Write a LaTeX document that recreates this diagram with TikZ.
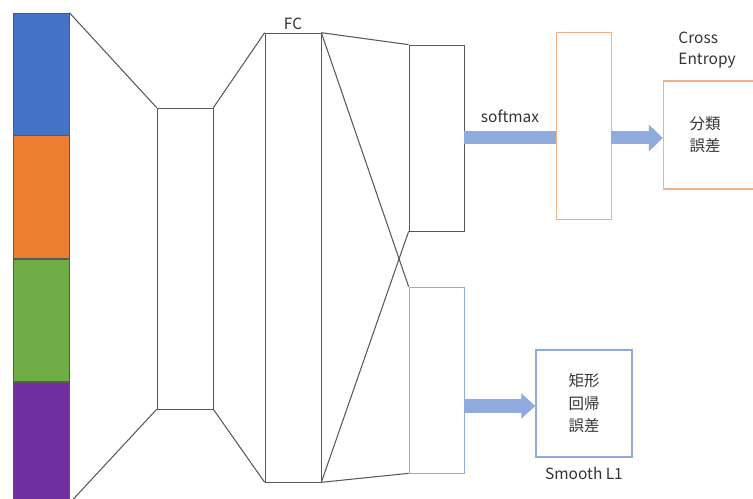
\documentclass[tikz,border=0pt]{standalone}
\usepackage{fontspec}
\setmainfont{Noto Sans CJK JP}
\usetikzlibrary{arrows.meta, positioning}

\definecolor{inblue}{HTML}{4472C4}
\definecolor{inorange}{HTML}{ED7D31}
\definecolor{ingreen}{HTML}{70AD47}
\definecolor{inpurple}{HTML}{7030A0}
\definecolor{lightblue}{HTML}{8FAADC}
\definecolor{lightorange}{HTML}{F4B183}
\definecolor{linegray}{HTML}{595959}

\begin{document}
\begin{tikzpicture}[x=0.02cm, y=-0.02cm,
    feat/.style={rectangle, draw=linegray, fill=#1, minimum width=1.12cm, minimum height=2.44cm, inner sep=0pt},
    layer/.style={rectangle, draw=linegray, minimum width=1.12cm, inner sep=0pt},
    loss/.style={rectangle, draw=#1, thick, align=center, inner sep=0pt},
    fat/.style={line width=7.4pt, draw=lightblue},
    conn/.style={draw=linegray, line width=0.6pt},
    lbl/.style={font=\fontsize{8.8}{12}\selectfont, text=black!80, align=left, inner sep=0pt}
]
    \useasboundingbox (0,0) rectangle (753,499);
    \path[use as bounding box, fill=white] (0,0) rectangle (753,499);

    % input feature stack
    \node[feat=inblue] (in1) at (41,74) {};
    \node[feat=inorange, below=0pt of in1, minimum height=2.46cm] (in2) {};
    \node[feat=ingreen, below=0pt of in2] (in3) {};
    \node[feat=inpurple, below=0pt of in3, minimum height=2.42cm] (in4) {};

    % layers
    \node[layer, minimum height=6.02cm] (pool) at (185,258.5) {};
    \node[layer, minimum height=8.98cm] (fc) at (293,257.5) {};
    \node[lbl, above=1.5pt of fc] {FC};
    \node[layer, minimum width=1.1cm, minimum height=3.72cm] (cls) at (436.5,138) {};
    \node[layer, draw=lightblue, minimum width=1.1cm, minimum height=3.72cm] (reg) at (436.5,380) {};
    \node[layer, draw=lightorange, minimum width=1.1cm, minimum height=3.74cm] (prob) at (583.5,125.5) {};

    % losses
    \node[loss=lightorange, minimum width=2.3cm, minimum height=2.16cm] (ce) at (721,135) {};
    \node[lbl, align=center, font=\fontsize{8.8}{12.5}\selectfont] (cetext) at (705,135) {分類\\誤差};
    \node[lbl] (cename) at (707,50) {Cross\\Entropy};
    \node[loss=lightblue, minimum width=1.92cm, minimum height=2.14cm, font=\fontsize{8.8}{12.75}\selectfont, text=black!80] (l1) at (584,403.5) {矩形\\回帰\\誤差};
    \node[lbl, below=5pt of l1] (l1name) {Smooth L1};

    % connections
    \draw[conn] (in1.north east) -- (pool.north west);
    \draw[conn] (in4.south east) -- (pool.south west);
    \draw[conn] (pool.north east) -- (fc.north west);
    \draw[conn] (pool.south east) -- (fc.south west);
    \draw[conn] (fc.north east) -- (cls.north west);
    \draw[conn] (fc.north east) -- (reg.north west);
    \draw[conn] (fc.south east) -- (cls.south west);
    \draw[conn] (fc.south east) -- (reg.south west);

    % arrows
    \draw[fat] (cls.east |- 0,138) -- node[lbl, above=5pt] {softmax} (prob.west |- 0,138);
    \draw[fat, -{Triangle[length=8pt, width=15pt]}] (prob.east |- 0,138) -- (ce.west |- 0,138);
    \draw[fat, -{Triangle[length=8pt, width=14pt]}] (reg.east |- 0,406) -- (l1.west |- 0,406);
\end{tikzpicture}
\end{document}
